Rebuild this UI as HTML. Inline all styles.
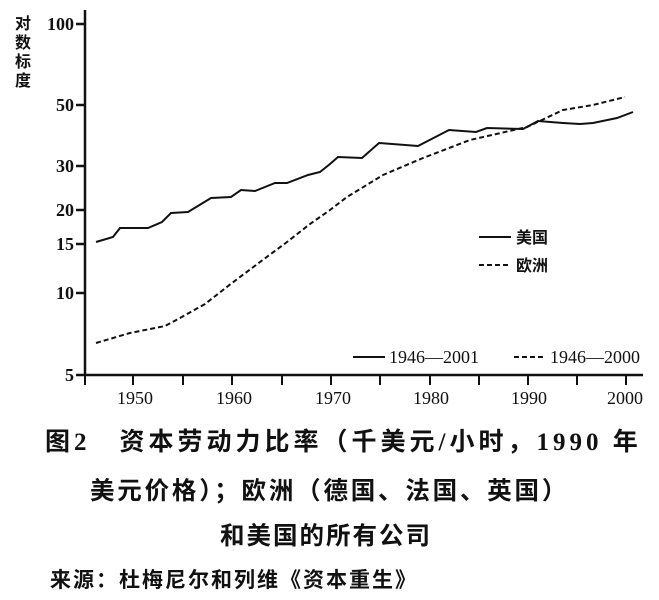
<!DOCTYPE html>
<html><head><meta charset="utf-8"><style>
body{margin:0;background:#fff;width:659px;height:600px;overflow:hidden;position:relative;font-family:"Liberation Serif","Noto Serif CJK SC",serif}
.c{position:absolute;font-family:"Liberation Serif","Noto Sans CJK SC",sans-serif;font-weight:bold;color:#111;white-space:nowrap}
</style></head><body>
<svg width="659" height="420" style="position:absolute;left:0;top:0" font-family="Liberation Serif, serif">
<g stroke="#111" stroke-width="2.5" fill="none">
<line x1="85" y1="10" x2="85" y2="376"/>
<line x1="84" y1="375" x2="643" y2="375"/>
<line x1="76" y1="24" x2="85" y2="24"/>
<line x1="76" y1="105" x2="85" y2="105"/>
<line x1="76" y1="166" x2="85" y2="166"/>
<line x1="76" y1="210" x2="85" y2="210"/>
<line x1="76" y1="244" x2="85" y2="244"/>
<line x1="76" y1="293" x2="85" y2="293"/>
<line x1="76" y1="375" x2="85" y2="375"/>
</g>
<g stroke="#111" stroke-width="2">
<line x1="85" y1="375" x2="85" y2="385"/><line x1="133" y1="375" x2="133" y2="385"/><line x1="183" y1="375" x2="183" y2="385"/><line x1="232" y1="375" x2="232" y2="385"/><line x1="282" y1="375" x2="282" y2="385"/><line x1="331" y1="375" x2="331" y2="385"/><line x1="380" y1="375" x2="380" y2="385"/><line x1="430" y1="375" x2="430" y2="385"/><line x1="479" y1="375" x2="479" y2="385"/><line x1="528" y1="375" x2="528" y2="385"/><line x1="577" y1="375" x2="577" y2="385"/><line x1="626" y1="375" x2="626" y2="385"/>
</g>
<g font-size="18" fill="#111" text-anchor="end" font-weight="bold">
<text x="74" y="30">100</text><text x="74" y="111">50</text><text x="74" y="172">30</text><text x="74" y="216">20</text><text x="74" y="250">15</text><text x="74" y="299">10</text><text x="74" y="381">5</text>
</g>
<g font-size="18" fill="#111" text-anchor="middle">
<text x="135" y="404">1950</text><text x="234" y="404">1960</text><text x="333" y="404">1970</text><text x="431" y="404">1980</text><text x="529" y="404">1990</text><text x="625" y="404">2000</text>
</g>
<g font-size="16" fill="#111" font-weight="bold" font-family="Noto Sans CJK SC, sans-serif">
<text x="15" y="29">对</text><text x="15" y="48">数</text><text x="15" y="67">标</text><text x="15" y="86">度</text>
</g>
<polyline fill="none" stroke="#111" stroke-width="2" points="96,242 113,237 120,228 148,228 162,222 171,213 188,212 211,198 231,197 241,190 255,191 275,183 287,183 308,175 320,172 330,164 338,157 362,158 379,143 418,146 449,130 476,132 487,128 523,129 538,121 563,123 580,124 593,123 617,118 633,112"/>
<polyline fill="none" stroke="#111" stroke-width="2" stroke-dasharray="5,3" points="96,343 130,333 165,326 180,318 205,304 232,283 260,262 287,242 310,224 330,210 347,197 383,175 423,158 470,140 527,127 563,110 593,105 625,97"/>
<line x1="479" y1="237" x2="511" y2="237" stroke="#111" stroke-width="2"/>
<line x1="479" y1="265" x2="511" y2="265" stroke="#111" stroke-width="2" stroke-dasharray="5,3"/>
<g font-size="16" fill="#111" font-weight="bold" font-family="Noto Sans CJK SC, sans-serif">
<text x="516" y="243">美国</text><text x="516" y="271">欧洲</text>
</g>
<line x1="353" y1="357" x2="385" y2="357" stroke="#111" stroke-width="2"/>
<line x1="514" y1="357" x2="546" y2="357" stroke="#111" stroke-width="2" stroke-dasharray="5,3"/>
<g font-size="18" fill="#111"><text x="389" y="363">1946—2001</text><text x="550" y="363">1946—2000</text></g>
</svg>
<div class="c" style="left:45px;top:422px;font-size:25px;letter-spacing:4px">图2　资本劳动力比率（千美元/小时，1990 年</div>
<div class="c" style="left:90px;top:472px;font-size:24.5px;letter-spacing:2.8px">美元价格）；欧洲（德国、法国、英国）</div>
<div class="c" style="left:220px;top:517px;font-size:24.5px;letter-spacing:2px">和美国的所有公司</div>
<div class="c" style="left:50px;top:564px;font-size:21px;letter-spacing:2px">来源：杜梅尼尔和列维《资本重生》</div>
</body></html>
